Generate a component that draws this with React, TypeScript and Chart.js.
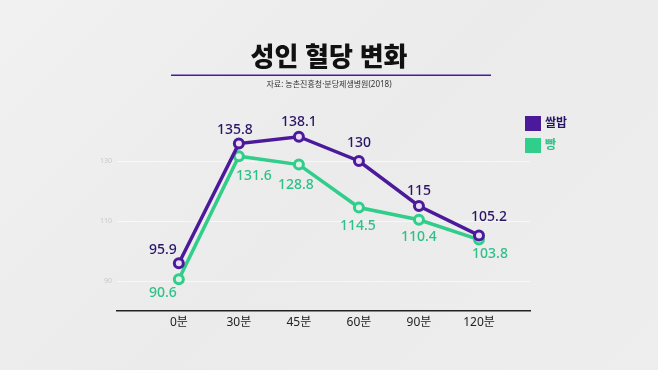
import React, { useEffect, useRef } from "react";
import { Chart, registerables } from "chart.js";

Chart.register(...registerables);

const categories = ["0분", "30분", "45분", "60분", "90분", "120분"];
const riceValues = [95.9, 135.8, 138.1, 130, 115, 105.2];
const breadValues = [90.6, 131.6, 128.8, 114.5, 110.4, 103.8];
const seriesNames = ["쌀밥", "빵"];
const yTickValues = [90, 110, 130];

const PURPLE = "#4b1a9b";
const GREEN = "#30cd8b";
const FONT = '"Noto Sans", "Noto Sans CJK KR", sans-serif';

const headerLine = {
  id: "headerLine",
  afterDraw(chart: any) {
    const tb = chart.titleBlock;
    if (!tb) return;
    const ctx = chart.ctx;
    const cx = chart.width / 2;
    const y = tb.bottom - 4;
    ctx.save();
    ctx.strokeStyle = PURPLE;
    ctx.lineWidth = 1.5;
    ctx.beginPath();
    ctx.moveTo(cx - 158, y);
    ctx.lineTo(cx + 162, y);
    ctx.stroke();
    ctx.restore();
  },
};

const valueLabels = {
  id: "valueLabels",
  afterDatasetsDraw(chart: any, _args: any, opts: any) {
    const ctx = chart.ctx;
    ctx.save();
    ctx.font = `500 14px ${FONT}`;
    ctx.textAlign = "center";
    ctx.textBaseline = "middle";
    chart.data.datasets.forEach((ds: any, di: number) => {
      const meta = chart.getDatasetMeta(di);
      const offs = opts.offsets[di];
      ctx.fillStyle = opts.colors[di];
      meta.data.forEach((pt: any, i: number) => {
        const v = ds.data[i].y;
        ctx.fillText(String(v), pt.x + offs[i][0], pt.y + offs[i][1]);
      });
    });
    ctx.restore();
  },
};

const boxLegend = {
  id: "boxLegend",
  afterDraw(chart: any, _args: any, opts: any) {
    const ctx = chart.ctx;
    ctx.save();
    chart.data.datasets.forEach((ds: any, di: number) => {
      const x = opts.x;
      const y = opts.y + di * opts.gap;
      ctx.fillStyle = ds.borderColor;
      ctx.fillRect(x, y, opts.box, opts.box - 1);
      ctx.font = `bold 12px ${FONT}`;
      ctx.textAlign = "left";
      ctx.textBaseline = "middle";
      ctx.fillStyle = opts.textColors[di];
      ctx.fillText(ds.label, x + opts.box + 4, y + opts.box / 2);
    });
    ctx.restore();
  },
};

export default function App() {
  const ref = useRef<HTMLCanvasElement | null>(null);

  useEffect(() => {
    document.body.style.margin = "0";
    if (!ref.current) return;
    const toPts = (arr: number[]) => arr.map((v, i) => ({ x: i, y: v }));
    const chart = new Chart(ref.current, {
      type: "line",
      data: {
        datasets: [
          {
            label: seriesNames[0],
            data: toPts(riceValues),
            borderColor: PURPLE,
            backgroundColor: PURPLE,
            borderWidth: 3.5,
            pointRadius: 4.5,
            pointBorderWidth: 3,
            pointBorderColor: PURPLE,
            pointBackgroundColor: "#eadcf5",
            tension: 0,
          },
          {
            label: seriesNames[1],
            data: toPts(breadValues),
            borderColor: GREEN,
            backgroundColor: GREEN,
            borderWidth: 3.5,
            pointRadius: 4.5,
            pointBorderWidth: 3,
            pointBorderColor: GREEN,
            pointBackgroundColor: "#dcf4e8",
            tension: 0,
          },
        ],
      },
      options: {
        animation: false,
        responsive: false,
        events: [],
        layout: { padding: { left: 0, right: 0, top: 0, bottom: 0 } },
        scales: {
          x: {
            type: "linear",
            min: -1.03,
            max: 5.85,
            afterBuildTicks: (s: any) => {
              s.ticks = categories.map((_, i) => ({ value: i }));
            },
            afterFit: (s: any) => {
              s.height = 59;
            },
            grid: { display: false, drawTicks: false },
            border: { display: true, color: "#222", width: 1.5 },
            ticks: {
              padding: 4,
              color: "#222",
              font: { family: FONT, size: 12 },
              callback: (v: any) => categories[v] ?? "",
            },
          },
          y: {
            type: "linear",
            min: 80,
            max: 145,
            afterBuildTicks: (s: any) => {
              s.ticks = yTickValues.map((v) => ({ value: v }));
            },
            afterFit: (s: any) => {
              s.width = 117;
            },
            grid: { color: "rgba(255,255,255,0.6)", lineWidth: 1, drawTicks: false },
            border: { display: false },
            ticks: {
              padding: 5,
              color: "#c8c8c8",
              font: { family: FONT, size: 7 },
            },
          },
          yRight: {
            type: "linear",
            position: "right",
            display: true,
            afterFit: (s: any) => {
              s.width = 128;
            },
            grid: { display: false, drawTicks: false },
            border: { display: false },
            ticks: { display: false },
          },
        },
        plugins: {
          legend: { display: false },
          tooltip: { enabled: false },
          title: {
            display: true,
            text: "성인 혈당 변화",
            color: "#111",
            font: { family: FONT, size: 26, weight: "900", lineHeight: 1.2 },
            padding: { top: 43, bottom: 5 },
          },
          subtitle: {
            display: true,
            text: "자료: 농촌진흥청·분당제생병원(2018)",
            color: "#333",
            font: { family: FONT, size: 8, lineHeight: 1.35 },
            padding: { top: 0, bottom: 26 },
          },
          valueLabels: {
            colors: ["#2a1466", "#2fc088"],
            offsets: [
              [[-16, -13], [-4, -14], [0, -15], [0, -18], [0, -15], [10, -18]],
              [[-16, 14], [15, 20], [-3, 20], [-1, 19], [0, 17], [11, 14]],
            ],
          },
          boxLegend: {
            x: 525,
            y: 116,
            gap: 22,
            box: 16,
            textColors: ["#2a1466", "#2fc088"],
          },
        } as any,
      },
      plugins: [headerLine, valueLabels, boxLegend],
    });
    return () => chart.destroy();
  }, []);

  return (
    <div
      style={{
        width: 658,
        height: 370,
        background: "linear-gradient(135deg, #f1f1f1 0%, #ebebeb 50%, #eeeeee 100%)",
      }}
    >
      <canvas ref={ref} width={658} height={370} style={{ display: "block" }} />
    </div>
  );
}
